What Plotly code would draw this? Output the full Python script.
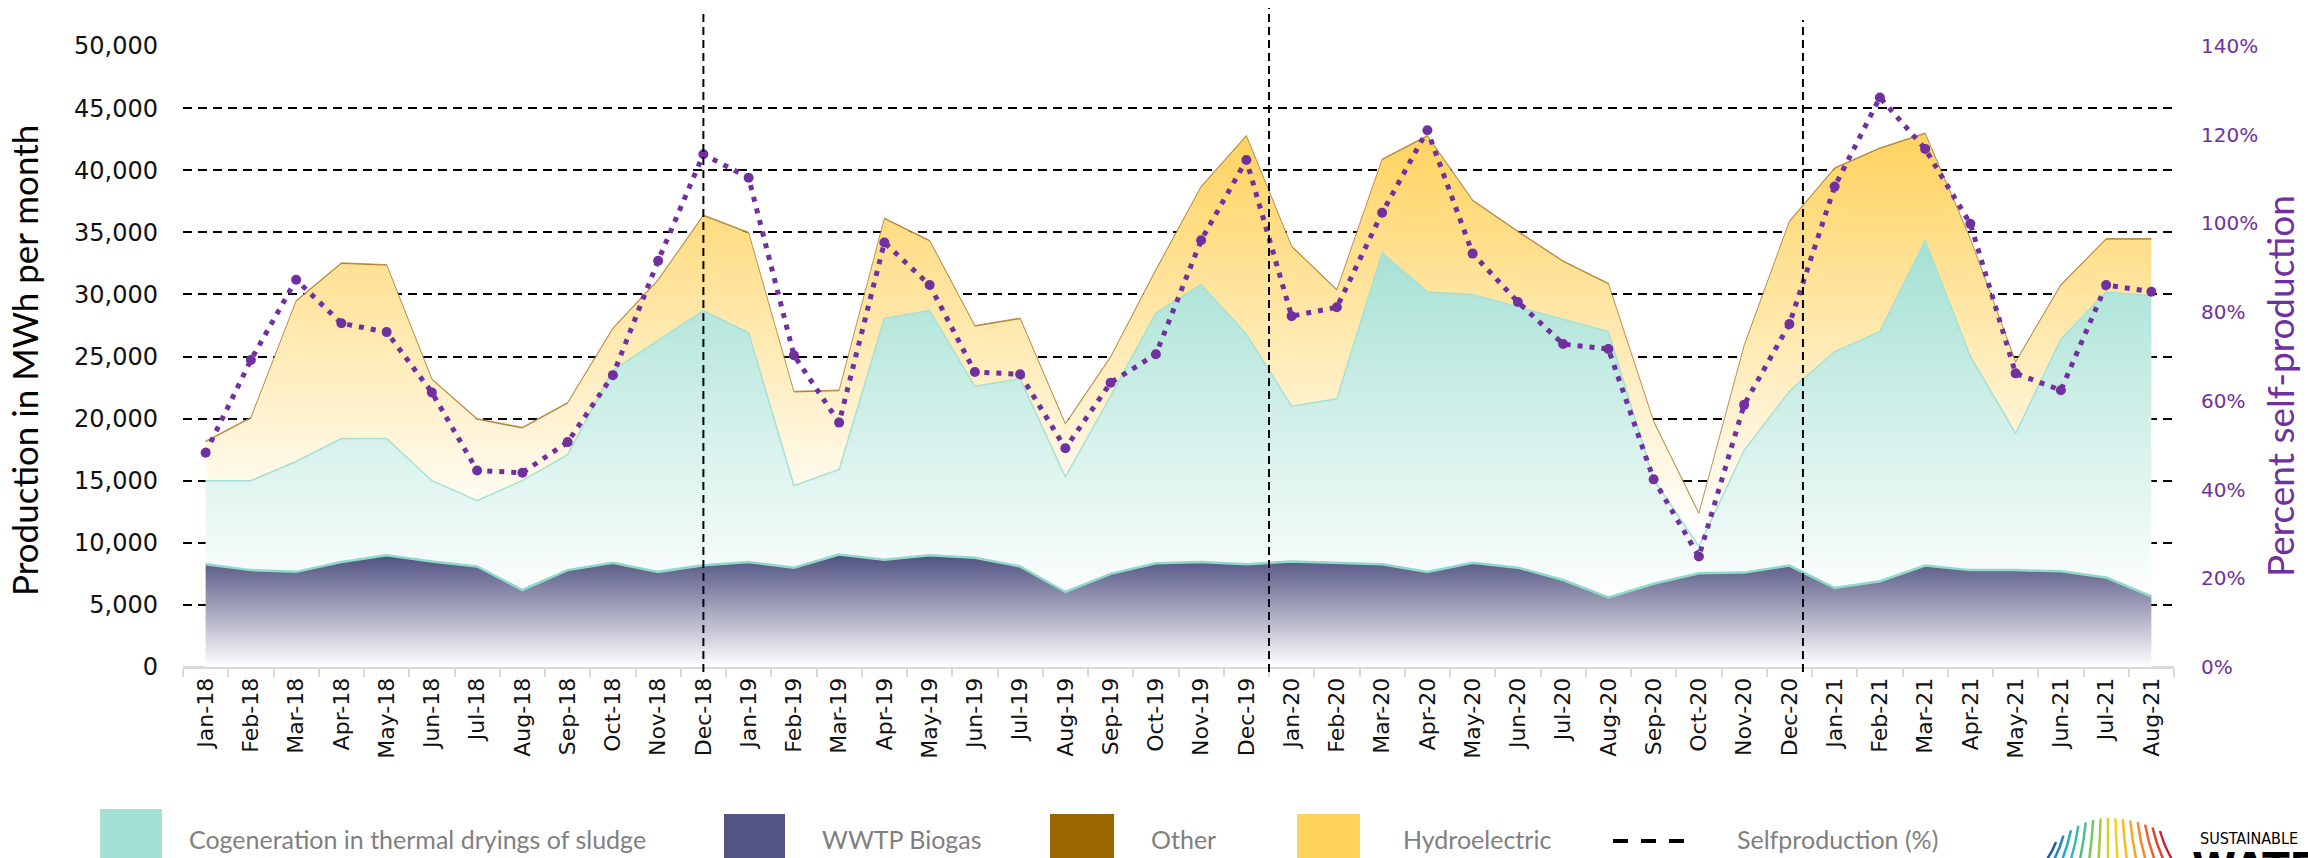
import plotly.graph_objects as go
import numpy as np

# ---------------- data ----------------
months = ["Jan-18", "Feb-18", "Mar-18", "Apr-18", "May-18", "Jun-18", "Jul-18", "Aug-18",
          "Sep-18", "Oct-18", "Nov-18", "Dec-18",
          "Jan-19", "Feb-19", "Mar-19", "Apr-19", "May-19", "Jun-19", "Jul-19", "Aug-19",
          "Sep-19", "Oct-19", "Nov-19", "Dec-19",
          "Jan-20", "Feb-20", "Mar-20", "Apr-20", "May-20", "Jun-20", "Jul-20", "Aug-20",
          "Sep-20", "Oct-20", "Nov-20", "Dec-20",
          "Jan-21", "Feb-21", "Mar-21", "Apr-21", "May-21", "Jun-21", "Jul-21", "Aug-21"]

# MWh per month
biogas = [8270, 7800, 7660, 8450, 9000, 8500, 8100, 6200, 7800, 8400, 7660, 8200,
          8450, 8000, 9060, 8630, 9000, 8800, 8100, 6040, 7500, 8350, 8450, 8270,
          8500, 8400, 8270, 7660, 8400, 8000, 7000, 5600, 6700, 7550, 7600, 8170,
          6370, 6900, 8170, 7800, 7800, 7700, 7200, 5680]

cogeneration = [6730, 7200, 8890, 9950, 9400, 6500, 5300, 8800, 9300, 15500, 18640, 20500,
                18450, 6600, 6840, 19430, 19700, 13800, 15100, 9260, 14300, 20150, 22350, 18530,
                12500, 13200, 25080, 22540, 21600, 21000, 21060, 21400, 8400, 2150, 9850, 14030,
                19030, 20100, 26180, 17200, 11000, 18700, 23000, 24220]

hydroelectric = [3100, 5000, 12850, 14050, 13900, 8100, 6500, 4200, 4100, 3300, 4800, 7600,
                 8000, 7500, 6300, 7990, 5550, 4800, 4800, 4200, 3100, 3400, 7800, 15900,
                 12800, 8700, 7450, 12500, 7500, 6000, 4540, 3800, 4600, 2600, 8350, 13600,
                 14700, 14700, 8550, 9400, 5700, 4300, 4200, 4500]

other = [100, 100, 100, 100, 100, 100, 100, 100, 100, 100, 100, 100,
         100, 100, 100, 100, 100, 100, 100, 100, 100, 100, 100, 100,
         100, 100, 100, 100, 100, 100, 100, 100, 100, 100, 100, 100,
         100, 100, 100, 100, 100, 100, 100, 100]

# percent
selfproduction_pct = [48.3, 69.2, 87.3, 77.5, 75.5, 61.9, 44.3, 43.8, 50.7, 65.8, 91.6, 115.6,
                      110.3, 70.3, 55.1, 95.7, 86.1, 66.5, 66.0, 49.3, 64.1, 70.5, 96.2, 114.3,
                      79.1, 81.1, 102.4, 121.0, 93.2, 82.3, 72.8, 71.7, 42.3, 24.9, 59.1, 77.3,
                      108.3, 128.4, 116.8, 99.9, 66.2, 62.4, 86.1, 84.6]

left_ticks = [0, 5000, 10000, 15000, 20000, 25000, 30000, 35000, 40000, 45000, 50000]
right_ticks = [0, 20, 40, 60, 80, 100, 120, 140]
right_tick_labels = ["0%", "20%", "40%", "60%", "80%", "100%", "120%", "140%"]
divider_positions = [11, 23.5, 35.3]        # category index of the vertical dashed lines
divider_tops = [1.053, 1.061, 1.042]        # paper height where each dashed line starts

# ---------------- geometry helpers (layout only) ----------------
W, H = 2308, 858
ML, MR, MT, MB = 183, 134, 46, 191
PW, PH = W - ML - MR, H - MT - MB


def px(x):
    return (x - ML) / PW


def py(y):
    return (H - MB - y) / PH


s1 = np.array(biogas, dtype=float)
s2 = s1 + np.array(cogeneration)
s3 = s2 + np.array(hydroelectric)
s4 = s3 + np.array(other)

fig = go.Figure()

fig.add_trace(go.Scatter(
    x=months, y=s1, name="WWTP Biogas", mode="lines",
    line=dict(color="#8FD9C9", width=2.5), fill="tozeroy",
    fillgradient=dict(type="vertical", start=0, stop=9000,
                      colorscale=[[0, "#FFFFFF"], [1, "#4F5080"]]),
    customdata=biogas, hovertemplate="%{x}: %{customdata:,} MWh<extra>WWTP Biogas</extra>",
    showlegend=False))

fig.add_trace(go.Scatter(
    x=months, y=s2, name="Cogeneration in thermal dryings of sludge", mode="lines",
    line=dict(color="#A4E1D4", width=1.5), fill="tonexty",
    fillgradient=dict(type="vertical", start=5000, stop=35000,
                      colorscale=[[0, "#FFFFFF"], [1, "#A2E0D2"]]),
    customdata=cogeneration, hovertemplate="%{x}: %{customdata:,} MWh<extra>Cogeneration</extra>",
    showlegend=False))

fig.add_trace(go.Scatter(
    x=months, y=s3, name="Hydroelectric", mode="lines",
    line=dict(color="rgba(0,0,0,0)", width=0), fill="tonexty",
    fillgradient=dict(type="vertical", start=11000, stop=43500,
                      colorscale=[[0, "#FFFFFF"], [1, "#FFD25C"]]),
    customdata=hydroelectric, hovertemplate="%{x}: %{customdata:,} MWh<extra>Hydroelectric</extra>",
    showlegend=False))

fig.add_trace(go.Scatter(
    x=months, y=s4, name="Other", mode="lines",
    line=dict(color="#B08030", width=0.7), fill="tonexty", fillcolor="#B8862E",
    customdata=other, hovertemplate="%{x}: %{customdata:,} MWh<extra>Other</extra>",
    showlegend=False))

fig.add_trace(go.Scatter(
    x=months, y=selfproduction_pct, name="Selfproduction (%)", yaxis="y2",
    mode="lines+markers",
    line=dict(color="#7030A0", width=5, dash="5px,7px"),
    marker=dict(size=10, color="#7030A0"),
    hovertemplate="%{x}: %{y:.1f}%<extra>Selfproduction</extra>",
    showlegend=False))

shapes = []
for pos, top in zip(divider_positions, divider_tops):
    shapes.append(dict(type="line", xref="x", yref="paper", x0=pos, x1=pos, y0=-0.008, y1=top,
                       line=dict(color="black", width=2, dash="8px,5px"), layer="above"))

# ---- manual legend ----
legend_items = [
    ("#A4E1D4", 100, 162, 809, "Cogeneration in thermal dryings of sludge", 187),
    ("#535486", 724, 785, 814, "WWTP Biogas", 820),
    ("#996600", 1050, 1114, 814, "Other", 1149),
    ("#FFD35C", 1297, 1360, 814, "Hydroelectric", 1401),
]
annotations = []
for col, x0, x1, y0, label, tx in legend_items:
    shapes.append(dict(type="rect", xref="paper", yref="paper",
                       x0=px(x0), x1=px(x1), y0=py(880), y1=py(y0),
                       fillcolor=col, line=dict(width=0), layer="above"))
    annotations.append(dict(xref="paper", yref="paper", x=px(tx), y=py(839), xanchor="left",
                            yanchor="middle", text=label, showarrow=False,
                            font=dict(family="Lato", size=25, color="#7F7F7F")))
shapes.append(dict(type="line", xref="paper", yref="paper", x0=px(1613), x1=px(1684),
                   y0=py(841), y1=py(841), line=dict(color="black", width=4, dash="15px,13px")))
annotations.append(dict(xref="paper", yref="paper", x=px(1735), y=py(839), xanchor="left",
                        yanchor="middle", text="Selfproduction (%)", showarrow=False,
                        font=dict(family="Lato", size=25, color="#7F7F7F")))

# ---- logo (decorative, partly cut off as in the reference) ----
logo_colors = ["#1f5fa8", "#2683c0", "#2aa7c9", "#35b8b0", "#4cbf8a", "#78c65a", "#9acd3c",
               "#c8d62a", "#f2d31b", "#f6bb20", "#f5a623", "#f08a2a", "#e8652c", "#dc4430",
               "#c8202f"]
n = len(logo_colors)
for i, c in enumerate(logo_colors):
    f = i / (n - 1)
    tx_ = 2056 + f * 104
    ty_ = 818 + (24 if f < 0.5 else 13) * (2 * f - 1) ** 2
    bx = tx_ + (f - 0.5) * 44
    cx = (tx_ + bx) / 2 - (f - 0.5) * 10
    cy = (ty_ + 875) / 2
    path = "M %.5f,%.5f Q %.5f,%.5f %.5f,%.5f" % (px(bx), py(875), px(cx), py(cy), px(tx_), py(ty_))
    shapes.append(dict(type="path", xref="paper", yref="paper", path=path,
                       line=dict(color=c, width=2.5)))
annotations.append(dict(xref="paper", yref="paper", x=px(2198), y=py(839), xanchor="left",
                        yanchor="middle", text="SUSTAINABLE", showarrow=False,
                        font=dict(family="DejaVu Sans Condensed", size=16, color="black")))
annotations.append(dict(xref="paper", yref="paper", x=px(2190), y=py(843), xanchor="left",
                        yanchor="top", text="<b>WATER</b>", showarrow=False,
                        font=dict(family="DejaVu Sans", size=40, color="black")))

# ---- axis titles ----
annotations.append(dict(xref="paper", yref="paper", x=px(24), y=py(361), textangle=-90,
                        xanchor="center", yanchor="middle", showarrow=False,
                        text="Production in MWh per month",
                        font=dict(family="Lato", size=35, color="black")))
annotations.append(dict(xref="paper", yref="paper", x=px(2279), y=py(386), textangle=-90,
                        xanchor="center", yanchor="middle", showarrow=False,
                        text="Percent self-production",
                        font=dict(family="Lato", size=37, color="#7030A0")))

fig.update_layout(
    width=W, height=H,
    margin=dict(l=ML, r=MR, t=MT, b=MB, autoexpand=False),
    paper_bgcolor="white", plot_bgcolor="white",
    font=dict(family="DejaVu Sans", size=22, color="#111"),
    showlegend=False,
    shapes=shapes, annotations=annotations,
    xaxis=dict(type="category", categoryorder="array", categoryarray=months,
               range=[-0.5, len(months) - 0.5], tickangle=-90,
               tickfont=dict(family="DejaVu Sans", size=22, color="#111"),
               showline=True, linecolor="#D9D9D9", linewidth=2,
               ticks="outside", tickson="boundaries", ticklen=8, tickwidth=2,
               tickcolor="#D9D9D9", showgrid=False, zeroline=False),
    yaxis=dict(range=[0, 50000], tickvals=left_ticks, tickformat=",",
               showgrid=True, gridcolor="black", gridwidth=2, griddash="9px,6px",
               zeroline=True, zerolinecolor="#D9D9D9", zerolinewidth=2,
               showline=False, ticks="", ticklabelstandoff=24,
               tickfont=dict(family="DejaVu Sans", size=24, color="#111")),
    yaxis2=dict(overlaying="y", side="right", range=[0, 140], tickvals=right_ticks,
                ticktext=right_tick_labels, showgrid=False, zeroline=False,
                showline=False, ticks="", ticklabelstandoff=26,
                tickfont=dict(family="DejaVu Sans", size=20, color="#7030A0")),
)

fig.write_html("out.html", config={"displayModeBar": False},
               post_script="document.body.style.margin='0px';")
